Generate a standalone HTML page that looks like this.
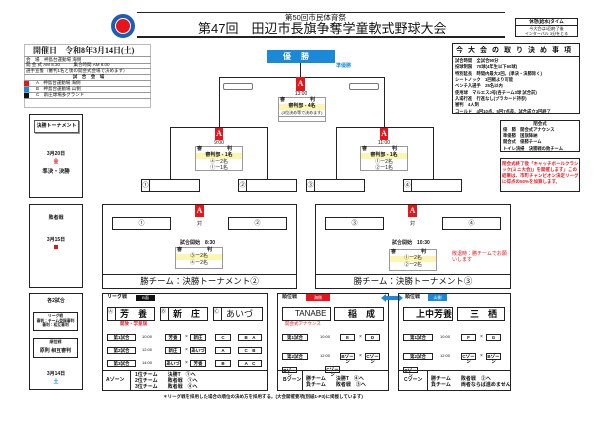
<!DOCTYPE html>
<html><head><meta charset="utf-8"><style>
*{margin:0;padding:0;box-sizing:border-box}
body{width:600px;height:424px;background:#fff;position:relative;overflow:hidden;font-family:"Liberation Sans","Noto Sans CJK JP",sans-serif;color:#111}
div{position:absolute}
.b{border:1px solid #222}
.b2{border:1.5px solid #222}
.t{font-size:5px;line-height:1;white-space:nowrap}
.c{text-align:center}
.red{background:#e8141c;color:#fff;text-align:center;font-weight:bold;font-family:"Liberation Serif",serif;font-size:8px}
.y{background:#fdf6b0}
.slot{border:1px solid #222;background:#fff;font-size:6px;display:flex;align-items:center}
.slot span{border-right:1px solid #222;width:8px;height:100%;text-align:center;line-height:12px}
.row{border-bottom:1px solid #999;font-size:4.5px;line-height:6px;white-space:nowrap;padding-left:2px}
.mt{border:1px solid #222;font-size:4.5px;text-align:center;line-height:5px;height:7px;font-weight:bold}
</style></head><body>
<!-- logo -->
<div style="left:111px;top:14px;width:24px;height:24px;border-radius:50%;background:#1a5fb4"></div>
<div style="left:115px;top:18px;width:16px;height:16px;border-radius:50%;background:#e8141c;border:1.5px solid #fff"></div>
<!-- title -->
<div style="left:137px;top:12px;width:368px;border-top:1px solid #222"></div>
<div class="t" style="left:285px;top:14px;font-size:7.5px">第50回市民体育祭</div>
<div class="t" style="left:198px;top:22px;font-size:13px">第47回　田辺市長旗争奪学童軟式野球大会</div>
<div style="left:137px;top:36px;width:368px;border-top:2px solid #222"></div>
<div class="b" style="left:515px;top:18px;width:63px;height:19px"></div>
<div class="t c" style="left:515px;top:20px;width:63px;font-weight:bold;font-size:4.5px">休憩(給水)タイム</div>
<div style="left:515px;top:25px;width:63px;border-top:1px solid #222"></div>
<div class="t c" style="left:515px;top:27px;width:63px;font-size:4px;line-height:4.5px">今大会は3回終了後<br>インターバル 3分をとる</div>
<!-- left info -->
<div style="left:24px;top:44px;width:127px;height:64px;border:1px solid #bbb">
<div class="t" style="position:relative;left:8px;top:2px;font-size:8px;font-weight:bold;font-family:'Liberation Serif','Noto Serif CJK SC',serif">開催日　令和8年3月14日(土)</div>
</div>
<div class="row" style="left:24px;top:56px;width:127px;border-top:1px solid #999">会　場　神島台運動場 海側</div>
<div class="row" style="left:24px;top:62px;width:127px">開 会 式 AM 8:30　　　集合時間 AM 8:00</div>
<div class="row" style="left:24px;top:68px;width:127px">選手宣誓（審判1名と後の開会式会場で決めます）</div>
<div class="row c" style="left:24px;top:74px;width:127px;font-weight:bold">試　合　会　場</div>
<div class="row" style="left:24px;top:80px;width:127px;padding-left:12px">A　神島台運動場 海側</div>
<div class="row" style="left:24px;top:86px;width:127px;padding-left:12px">B　神島台運動場 山側</div>
<div class="row" style="left:24px;top:92px;width:127px;padding-left:12px">C　新庄球場多グランド</div>
<div style="left:24px;top:81px;width:5px;height:5px;background:#e8141c"></div>
<div style="left:24px;top:87px;width:5px;height:5px;background:#1a8ad8"></div>
<div style="left:24px;top:93px;width:5px;height:5px;background:#111"></div>
<!-- rules box -->
<div class="b2" style="left:452px;top:43px;width:128px;height:71px;background:#fff"></div>
<div class="t" style="left:456px;top:47px;font-size:7px;letter-spacing:5px;font-weight:bold">今大会の取り決め事項</div>
<div style="left:452px;top:56px;width:128px;border-top:1px solid #222"></div>
<div class="t" style="left:455px;top:58px;font-size:4.3px;line-height:6.35px;font-weight:bold">試合時間　全試合90分<br>投球制限　70球(4年生以下60球)<br>特別延長　時間内最大2回。(準決・決勝除く)<br>シートノック　1回戦より可能<br>ベンチ入選手　25名以内<br>使用球　マルエスJ号(各チーム3球 試合前)<br>入場行進　行進なし(プラカード持参)<br>審判　4人制<br>コールド　4回10点、5回7点差、試合成立3回終了</div>
<div class="b" style="left:500px;top:120px;width:80px;height:32px"></div>
<div class="t c" style="left:500px;top:121px;width:80px;font-size:4.5px;line-height:6.2px;font-weight:bold">閉会式</div>
<div class="t" style="left:503px;top:127px;font-size:4.3px;line-height:6.2px;font-weight:bold">優　勝　開会式アナウンス<br>準優勝　国旗降納<br>開会式　優勝チーム<br>トイレ清掃　決勝戦の敗チーム</div>
<div class="b" style="left:500px;top:158px;width:80px;height:34px"></div>
<div class="t" style="left:502px;top:161px;color:#e8141c;font-size:4.5px;line-height:6px;font-weight:bold;white-space:normal;width:77px">閉会式終了後「キャッチボールクラシック(ミニ大会)」を開催します」この結果は、市町チャンピオン決定リーグに得点の50%を加算します。</div>
<!-- final -->
<div style="left:267px;top:50px;width:68px;height:13px;background:#1a8ad8;color:#fff;font-size:8px;font-weight:bold;text-align:center;line-height:13px;letter-spacing:10px">優勝</div>
<div class="t" style="left:336px;top:64px;color:#1a8ad8;font-weight:bold">準優勝</div>
<div style="left:219px;top:77px;width:166px;height:51px;border:1.5px solid #222;border-bottom:none"></div>
<div style="left:300px;top:63px;height:14px;border-left:1.5px solid #222"></div>
<div style="left:223px;top:83px;width:30px;height:7px;border:1px solid #777;border-radius:2px"></div>
<div style="left:349px;top:83px;width:30px;height:7px;border:1px solid #777;border-radius:2px"></div>
<div class="red" style="left:296px;top:77px;width:9px;height:14px;line-height:14px">A</div>
<div class="t c" style="left:290px;top:92px;width:22px">13:00</div>
<div class="b" style="left:278px;top:97px;width:48px;height:25px;border-color:#999"></div>
<div class="t" style="left:280px;top:98px;font-weight:bold">審　　　　　判</div>
<div class="t c y" style="left:279px;top:104px;width:46px;height:6px;font-weight:bold">審判部 - 4名</div>
<div class="t c" style="left:279px;top:111px;width:46px;font-size:4px">(3位決め等で決めます)</div>
<div style="left:279px;top:116px;width:46px;border-top:1px solid #999"></div>
<!-- semis -->
<div style="left:170px;top:127px;width:98px;height:53px;border:1.5px solid #222;border-bottom:none"></div>
<div style="left:336px;top:127px;width:98px;height:53px;border:1.5px solid #222;border-bottom:none"></div>
<div class="red" style="left:215px;top:128px;width:8px;height:12px;line-height:12px">A</div>
<div class="red" style="left:380px;top:128px;width:8px;height:12px;line-height:12px">A</div>
<div class="t c" style="left:208px;top:141px;width:22px">9:00</div>
<div class="t c" style="left:373px;top:141px;width:22px">11:00</div>
<div class="b" style="left:195px;top:146px;width:48px;height:25px;border-color:#999"></div>
<div class="t" style="left:197px;top:147px;font-weight:bold">審　　　　　判</div>
<div class="t c y" style="left:196px;top:153px;width:46px;height:6px;font-weight:bold">審判部 - 1名</div>
<div class="t c" style="left:196px;top:159px;width:46px;line-height:6px">④ー2名<br>①ー1名</div>
<div class="b" style="left:360px;top:146px;width:48px;height:25px;border-color:#999"></div>
<div class="t" style="left:362px;top:147px;font-weight:bold">審　　　　　判</div>
<div class="t c y" style="left:361px;top:153px;width:46px;height:6px;font-weight:bold">審判部 - 1名</div>
<div class="t c" style="left:361px;top:159px;width:46px;line-height:6px">①ー2名<br>②ー1名</div>
<div class="slot" style="left:141px;top:179px;width:59px;height:13px"><span>①</span></div>
<div class="slot" style="left:238px;top:179px;width:59px;height:13px"><span>②</span></div>
<div class="slot" style="left:306px;top:179px;width:59px;height:13px"><span>③</span></div>
<div class="slot" style="left:403px;top:179px;width:59px;height:13px"><span>④</span></div>
<!-- left side boxes -->
<div class="b2" style="left:29px;top:114px;width:54px;height:84px"></div>
<div style="left:34px;top:120px;width:45px;height:13px;border:1px solid #555;box-shadow:1px 1px 0 #999"></div>
<div class="t c" style="left:34px;top:124px;width:45px;font-weight:bold">決勝トーナメント</div>
<div class="t c" style="left:29px;top:152px;width:54px;font-weight:bold">3月20日</div>
<div class="t c" style="left:29px;top:160px;width:54px;font-weight:bold;color:#e8141c">金</div>
<div class="t c" style="left:29px;top:170px;width:54px;font-weight:bold;font-size:5.5px">準決・決勝</div>
<div class="b2" style="left:29px;top:204px;width:54px;height:84px"></div>
<div class="t c" style="left:29px;top:216px;width:54px;font-weight:bold">敗者戦</div>
<div class="t c" style="left:29px;top:238px;width:54px;font-weight:bold">3月15日</div>
<div style="left:54px;top:245px;width:4px;height:4px;background:#e8141c"></div>
<!-- middle boxes -->
<div class="b2" style="left:102px;top:204px;width:195px;height:85px"></div>
<div style="left:102px;top:274px;width:195px;border-top:1.5px solid #222"></div>
<div class="red" style="left:195px;top:205px;width:9px;height:12px;line-height:12px">A</div>
<div class="b" style="left:112px;top:217px;width:59px;height:13px;font-size:6px;text-align:center;line-height:12px">①</div>
<div class="b" style="left:228px;top:217px;width:59px;height:13px;font-size:6px;text-align:center;line-height:12px">②</div>
<div class="t" style="left:197px;top:222px">対</div>
<div class="t" style="left:180px;top:241px;font-weight:bold">試合開始　8:30</div>
<div class="b" style="left:175px;top:247px;width:48px;height:22px;border-color:#999"></div>
<div class="t" style="left:177px;top:248px;font-weight:bold">審　　　　　判</div>
<div class="t c y" style="left:176px;top:254px;width:46px;height:6px">③ー2名</div>
<div class="t c" style="left:176px;top:261px;width:46px">④ー2名</div>
<div class="t c" style="left:102px;top:277px;width:195px;font-size:8.5px">勝チーム：決勝トーナメント②</div>
<div class="b2" style="left:315px;top:204px;width:196px;height:85px"></div>
<div style="left:315px;top:274px;width:196px;border-top:1.5px solid #222"></div>
<div class="red" style="left:408px;top:205px;width:9px;height:12px;line-height:12px">A</div>
<div class="b" style="left:325px;top:217px;width:59px;height:13px;font-size:6px;text-align:center;line-height:12px">③</div>
<div class="b" style="left:442px;top:217px;width:59px;height:13px;font-size:6px;text-align:center;line-height:12px">④</div>
<div class="t" style="left:410px;top:222px">対</div>
<div class="t" style="left:392px;top:241px;font-weight:bold">試合開始　10:30</div>
<div class="b" style="left:389px;top:249px;width:48px;height:22px;border-color:#999"></div>
<div class="t" style="left:391px;top:250px;font-weight:bold">審　　　　　判</div>
<div class="t c y" style="left:390px;top:256px;width:46px;height:6px">①ー2名</div>
<div class="t c" style="left:390px;top:263px;width:46px">②ー2名</div>
<div class="t" style="left:452px;top:251px;color:#e8141c;line-height:6px">敗退時：勝チームでお願<br>いします</div>
<div class="t c" style="left:315px;top:277px;width:196px;font-size:8.5px">勝チーム：決勝トーナメント③</div>
<!-- bottom left -->
<div class="b2" style="left:29px;top:293px;width:54px;height:97px"></div>
<div class="t c" style="left:29px;top:299px;width:54px;font-weight:bold">各2試合</div>
<div class="b" style="left:33px;top:312px;width:45px;height:19px"></div>
<div class="t c" style="left:33px;top:314px;width:45px;font-size:3.8px;line-height:4.5px;font-weight:bold">リーグ戦<br>審判：チーム登録審判<br>審判：相互審判</div>
<div class="b" style="left:33px;top:338px;width:45px;height:20px"></div>
<div class="t c" style="left:33px;top:340px;width:45px;font-size:4px;font-weight:bold">順位戦</div>
<div class="t c" style="left:33px;top:349px;width:45px;font-weight:bold">原則 相互審判</div>
<div class="t c" style="left:29px;top:372px;width:54px;font-weight:bold">3月14日</div>
<div class="t c" style="left:29px;top:380px;width:54px;color:#1a8ad8;font-weight:bold">土</div>
<!-- league A -->
<div class="b2" style="left:102px;top:293px;width:166px;height:98px"></div>
<div style="left:102px;top:370px;width:166px;border-top:1.5px solid #222"></div>
<div style="left:130px;top:370px;height:21px;border-left:1px solid #222"></div>
<div class="t" style="left:107px;top:295px;font-weight:bold">リーグ戦</div>
<div style="left:136px;top:295px;width:19px;height:6px;background:#111;color:#fff;font-size:4px;text-align:center">B面</div>
<div class="b2" style="left:107px;top:307px;width:48px;height:14px;font-size:9px;font-weight:bold;line-height:12px;padding-left:12px">芳　養</div>
<div class="b2" style="left:160px;top:307px;width:48px;height:14px;font-size:9px;font-weight:bold;line-height:12px;padding-left:12px">新　庄</div>
<div class="b2" style="left:213px;top:307px;width:50px;height:14px;font-size:9px;line-height:12px;padding-left:12px">あいづ</div>
<div style="left:115px;top:307px;height:14px;border-left:1px solid #222"></div>
<div style="left:168px;top:307px;height:14px;border-left:1px solid #222"></div>
<div style="left:221px;top:307px;height:14px;border-left:1px solid #222"></div>
<div class="t" style="left:108px;top:310px;font-size:5px">Ⓐ</div><div class="t" style="left:161px;top:310px">Ⓑ</div><div class="t" style="left:214px;top:310px">Ⓒ</div>
<div class="t" style="left:120px;top:322px;color:#e8141c;font-size:4.5px;font-weight:bold">開放・学童旗</div>
<div class="mt" style="left:107px;top:334px;width:29px">第1試合</div><div class="t" style="left:142px;top:335px;font-size:4px">10:00</div>
<div class="mt" style="left:165px;top:334px;width:16px">芳養</div><div class="t" style="left:185px;top:335px">×</div><div class="mt" style="left:190px;top:334px;width:16px">新庄</div>
<div class="mt" style="left:215px;top:334px;width:16px">C</div><div class="mt" style="left:238px;top:334px;width:24px">B　A</div>
<div class="mt" style="left:107px;top:347px;width:29px">第2試合</div><div class="t" style="left:142px;top:348px;font-size:4px">12:00</div>
<div class="mt" style="left:165px;top:347px;width:16px">新庄</div><div class="t" style="left:185px;top:348px">×</div><div class="mt" style="left:190px;top:347px;width:16px">あいづ</div>
<div class="mt" style="left:215px;top:347px;width:16px">A</div><div class="mt" style="left:238px;top:347px;width:24px">C　B</div>
<div class="mt" style="left:107px;top:360px;width:29px">第3試合</div><div class="t" style="left:142px;top:361px;font-size:4px">14:00</div>
<div class="mt" style="left:165px;top:360px;width:16px">あいづ</div><div class="t" style="left:185px;top:361px">×</div><div class="mt" style="left:190px;top:360px;width:16px">芳養</div>
<div class="mt" style="left:215px;top:360px;width:16px">B</div><div class="mt" style="left:238px;top:360px;width:24px">A　C</div>
<div class="t" style="left:106px;top:378px;font-weight:bold">Aゾーン</div>
<div class="t" style="left:135px;top:373px;font-weight:bold;line-height:5.8px">1位チーム　　決勝T　①へ<br>2位チーム　　敗者戦　①へ<br>3位チーム　　敗者戦　④へ</div>
<!-- B -->
<div class="b2" style="left:277px;top:293px;width:112px;height:98px"></div>
<div style="left:277px;top:370px;width:112px;border-top:1.5px solid #222"></div>
<div style="left:302px;top:370px;height:21px;border-left:1px solid #222"></div>
<div class="t" style="left:282px;top:295px;font-weight:bold">順位戦</div>
<div style="left:306px;top:294px;width:24px;height:7px;background:#e8141c;color:#fff;font-size:4px;text-align:center;line-height:7px">海側</div>
<div class="b2" style="left:282px;top:307px;width:49px;height:14px;font-size:8px;line-height:12px;padding-left:12px">TANABE</div>
<div class="b2" style="left:334px;top:307px;width:50px;height:14px;font-size:9px;font-weight:bold;line-height:12px;padding-left:13px">稲　成</div>
<div class="t" style="left:285px;top:322px;color:#e8141c;font-size:4.5px">開会式アナウンス</div>
<div class="mt" style="left:282px;top:334px;width:26px">第1試合</div><div class="t" style="left:320px;top:335px;font-size:4px">10:00</div>
<div class="mt" style="left:340px;top:334px;width:15px">E</div><div class="t" style="left:359px;top:335px">×</div><div class="mt" style="left:365px;top:334px;width:15px">D</div>
<div class="mt" style="left:282px;top:353px;width:26px">第2試合</div><div class="t" style="left:320px;top:354px;font-size:4px">12:00</div>
<div class="mt" style="left:340px;top:353px;width:15px">Bゾーン</div><div class="t" style="left:359px;top:354px">×</div><div class="mt" style="left:365px;top:353px;width:15px">Cゾーン</div>
<div class="mt" style="left:282px;top:367px;width:15px;height:6px">Bゾーン</div><div class="mt" style="left:325px;top:366px;width:15px">Cゾーン</div>
<div class="t" style="left:283px;top:378px;font-weight:bold">Bゾーン</div>
<div class="t" style="left:306px;top:376px;font-weight:bold;line-height:6px">勝チーム　　決勝T　④へ<br>負チーム　　敗者戦　③へ</div>
<!-- arrow -->
<div style="left:385px;top:296px;width:14px;height:4px;background:#1a8ad8"></div>
<div style="left:381px;top:294px;border-right:5px solid #1a8ad8;border-top:4px solid transparent;border-bottom:4px solid transparent"></div>
<div style="left:398px;top:294px;border-left:5px solid #1a8ad8;border-top:4px solid transparent;border-bottom:4px solid transparent"></div>
<!-- C -->
<div class="b2" style="left:398px;top:293px;width:113px;height:98px"></div>
<div style="left:398px;top:370px;width:113px;border-top:1.5px solid #222"></div>
<div style="left:427px;top:370px;height:21px;border-left:1px solid #222"></div>
<div class="t" style="left:405px;top:295px;font-weight:bold">順位戦</div>
<div style="left:428px;top:294px;width:19px;height:7px;background:#1a8ad8;color:#fff;font-size:4px;text-align:center;line-height:7px">山側</div>
<div class="b2" style="left:403px;top:307px;width:50px;height:14px;font-size:9px;font-weight:bold;line-height:12px;padding-left:12px">上中芳養</div>
<div class="b2" style="left:457px;top:307px;width:48px;height:14px;font-size:9px;font-weight:bold;line-height:12px;padding-left:12px">三　栖</div>
<div class="mt" style="left:403px;top:334px;width:30px">第1試合</div><div class="t" style="left:440px;top:335px;font-size:4px">10:00</div>
<div class="mt" style="left:461px;top:334px;width:15px">F</div><div class="t" style="left:480px;top:335px">×</div><div class="mt" style="left:486px;top:334px;width:15px">G</div>
<div class="mt" style="left:403px;top:353px;width:30px">第2試合</div><div class="t" style="left:440px;top:354px;font-size:4px">12:00</div>
<div class="mt" style="left:461px;top:353px;width:15px">Cゾーン</div><div class="t" style="left:480px;top:354px">×</div><div class="mt" style="left:486px;top:353px;width:15px">Bゾーン</div>
<div class="mt" style="left:403px;top:367px;width:15px;height:6px">Cゾーン</div>
<div class="t" style="left:404px;top:378px;font-weight:bold">Cゾーン</div>
<div class="t" style="left:431px;top:376px;font-weight:bold;line-height:6px">勝チーム　　敗者戦　②へ<br>負チーム　　両者ならば進めません</div>
<div class="t" style="left:163px;top:395px;font-size:4.5px;font-weight:bold">＊リーグ戦を採用した場合の順位の決め方を採用する。(大会開催要項(別紙1-P3)に掲載しています)</div>
</body></html>
